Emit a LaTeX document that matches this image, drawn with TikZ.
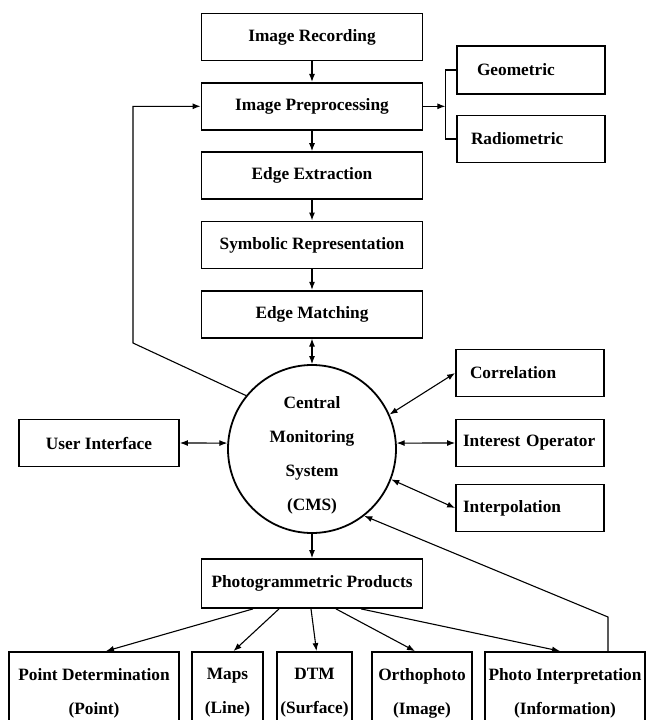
\documentclass[tikz,border=0pt]{standalone}
\usepackage{fontspec}
\setmainfont{Liberation Serif}
\usetikzlibrary{arrows.meta,positioning}

\begin{document}
\begin{tikzpicture}[
  x=1pt,y=1pt,
  node distance=20.5pt,
  box/.style={draw,line width=1.8pt,minimum width=221pt,minimum height=47pt,
    inner sep=2pt,align=center,font=\bfseries\fontsize{17.3}{34}\selectfont},
  sbox/.style={box,minimum width=148pt,text width=136pt,inner xsep=6pt,align=left},
  pbox/.style={box,minimum height=82pt},
  hub/.style={circle,draw,line width=1.8pt,minimum size=168pt,inner sep=0pt,
    align=center,font=\bfseries\fontsize{17.3}{34}\selectfont},
  a/.style={-{Latex[length=8pt,width=6pt]},line width=1.1pt},
  aa/.style={{Latex[length=8pt,width=6pt]}-{Latex[length=8pt,width=6pt]},line width=1.1pt}
]
  \useasboundingbox (0,0) rectangle (651,-720);
  % main chain
  \node[box] (ir) at (312,-37) {Image Recording};
  \node[box,below=of ir] (ip) {Image Preprocessing};
  \node[box,below=of ip] (ee) {Edge Extraction};
  \node[box,below=of ee] (sr) {Symbolic Representation};
  \node[box,below=of sr] (em) {Edge Matching};
  \node[hub] (cms) at (312,-449) {\rule{0pt}{24pt}Central\\Monitoring\\System\\(CMS)};
  \node[box,minimum height=49pt] (pp) at (312,-583.5) {Photogrammetric Products};
  % side boxes
  \node[sbox,minimum height=48pt] (geo) at (531,-70) {\hspace*{14pt}Geometric};
  \node[sbox] (rad) at (531,-139) {\hspace*{8pt}Radiometric};
  \node[box,minimum width=160pt] (ui) at (99,-443) {User Interface};
  \node[sbox] (cor) at (530,-373) {\hspace*{8pt}Correlation};
  \node[sbox] (io) at (530,-443) {\hspace*{1pt}Interest Operator};
  \node[sbox] (itp) at (530,-508) {\hspace*{1pt}Interpolation};
  % products
  \node[pbox,minimum width=170pt] (pd) at (94,-693) {Point Determination\\(Point)};
  \node[pbox,minimum width=71pt] (maps) at (227.5,-693) {Maps\\(Line)};
  \node[pbox,minimum width=75pt] (dtm) at (314.5,-693) {DTM\\(Surface)};
  \node[pbox,minimum width=100pt] (orth) at (422,-693) {Orthophoto\\(Image)};
  \node[pbox,minimum width=160pt] (pi) at (565,-693) {Photo Interpretation\\(Information)};
  \coordinate (fbl) at (133,-343);
  \coordinate (fbr) at (608,-617);

  \draw[a] (ir) -- (ip);
  \draw[a] (ip) -- (ee);
  \draw[a] (ee) -- (sr);
  \draw[a] (sr) -- (em);
  \draw[aa] (em) -- (cms);
  \draw[a] (ip.east) -- ++(22,0) coordinate (brk);
  \draw[line width=1.1pt] (geo.west) -| (brk) |- (rad.west);
  \draw[a] (cms.141) -- (fbl) |- (ip.west);
  \draw[aa] (ui.east) -- (cms.176);
  \draw[aa] (cms.24) -- (cor.west);
  \draw[aa] (cms.4) -- (io.west);
  \draw[aa] (cms.-21) -- (itp.west);
  \draw[a] (cms) -- (pp);
  \draw[a] ([xshift=-59pt]pp.south) -- ([xshift=12pt]pd.north);
  \draw[a] ([xshift=-33pt]pp.south) -- ([xshift=6pt]maps.north);
  \draw[a] ([xshift=-1pt]pp.south) -- ([xshift=2pt]dtm.north);
  \draw[a] ([xshift=24pt]pp.south) -- ([xshift=-7pt]orth.north);
  \draw[a] ([xshift=49pt]pp.south) -- ([xshift=-5pt]pi.north);
  \draw[a] ([xshift=43pt]pi.north) -- (fbr) -- (cms.-52);
\end{tikzpicture}
\end{document}
